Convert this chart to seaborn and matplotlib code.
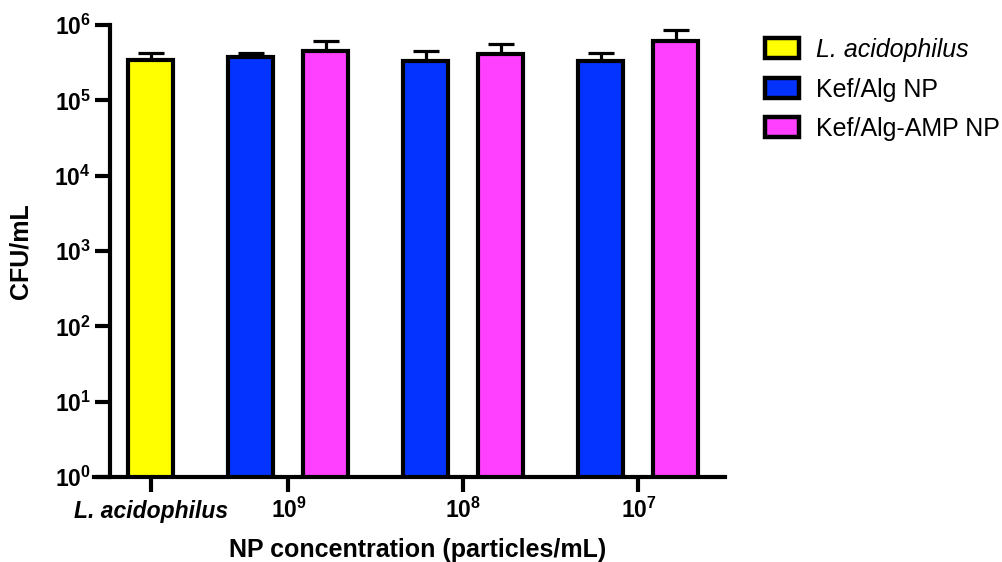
import matplotlib
matplotlib.use("Agg")
import matplotlib.pyplot as plt
from matplotlib.patches import Patch
import numpy as np
import pandas as pd
import seaborn as sns

# ---- data -------------------------------------------------------------
group_labels = ["L. acidophilus", r"$\mathbf{10^{9}}$", r"$\mathbf{10^{8}}$", r"$\mathbf{10^{7}}$"]
series_names = ["L. acidophilus", "Kef/Alg NP", "Kef/Alg-AMP NP"]

control_mean = [3.41e5]
control_sd = [0.88e5]
kef_alg_mean = [3.76e5, 3.36e5, 3.30e5]
kef_alg_sd = [0.45e5, 1.20e5, 0.89e5]
kef_alg_amp_mean = [4.47e5, 4.17e5, 6.19e5]
kef_alg_amp_sd = [1.60e5, 1.34e5, 2.52e5]

y_tick_values = [1e0, 1e1, 1e2, 1e3, 1e4, 1e5, 1e6]
y_tick_labels = [r"$\mathbf{10^{%d}}$" % k for k in range(7)]

colors = {"L. acidophilus": "#FFFF00", "Kef/Alg NP": "#0433FF", "Kef/Alg-AMP NP": "#FF40FF"}

# ---- layout of bars along x -------------------------------------------
group_step = 7.0
first_group = 5.5
half_gap = 1.5
group_centers = [0.0] + [first_group + group_step * i for i in range(3)]

rows = []
rows.append({"pos": group_centers[0], "val": control_mean[0], "sd": control_sd[0], "series": series_names[0]})
for i in range(3):
    c = group_centers[i + 1]
    rows.append({"pos": c - half_gap, "val": kef_alg_mean[i], "sd": kef_alg_sd[i], "series": series_names[1]})
    rows.append({"pos": c + half_gap, "val": kef_alg_amp_mean[i], "sd": kef_alg_amp_sd[i], "series": series_names[2]})
df = pd.DataFrame(rows)

# ---- style ------------------------------------------------------------
sns.set_theme(style="white")
plt.rcParams["font.family"] = ["Liberation Sans", "DejaVu Sans"]
plt.rcParams["mathtext.fontset"] = "custom"
plt.rcParams["mathtext.rm"] = "Liberation Sans"
plt.rcParams["mathtext.bf"] = "Liberation Sans:bold"
plt.rcParams["mathtext.it"] = "Liberation Sans:italic"
plt.rcParams["text.color"] = "black"

LW = 3.0
fig = plt.figure(figsize=(10.03, 5.62), dpi=100)
W, H = 1003, 562
ax = fig.add_axes([94 / W, 1 - 477 / H, (725 - 94) / W, (477 - 25) / H])

sns.barplot(
    data=df, x="pos", y="val", hue="series", hue_order=series_names,
    palette=colors, native_scale=True, dodge=False, width=0.6,
    edgecolor="black", linewidth=LW, errorbar=None, legend=False,
    saturation=1, ax=ax, zorder=3,
)
ax.errorbar(
    df["pos"], df["val"], yerr=[np.zeros(len(df)), df["sd"]],
    fmt="none", ecolor="black", elinewidth=2.3, capsize=9.5, capthick=2.3, zorder=2,
)

ax.set_yscale("log")
ax.set_ylim(1, 1e6)
ax.set_xlim(-2.28, 22.96)
ax.set_yticks(y_tick_values)
ax.set_yticklabels(y_tick_labels)
ax.yaxis.set_minor_locator(matplotlib.ticker.NullLocator())
ax.set_xticks(group_centers)
ax.set_xticklabels(group_labels)
for lbl in ax.get_xticklabels():
    lbl.set_verticalalignment("baseline")
lab0 = ax.get_xticklabels()[0]
lab0.set_fontstyle("italic")
lab0.set_fontweight("bold")

for side in ("top", "right"):
    ax.spines[side].set_visible(False)
ax.spines["left"].set_position(("data", -1.64))
for side in ("left", "bottom"):
    ax.spines[side].set_linewidth(LW)
    ax.spines[side].set_color("black")
    ax.spines[side].set_zorder(5)

ax.tick_params(axis="both", which="major", length=10.8, width=LW, color="black",
               labelsize=16.5, labelcolor="black", direction="out",
               bottom=True, left=True)
ax.tick_params(axis="x", pad=19)
ax.tick_params(axis="y", pad=3)
ax.grid(False)

ax.set_xlabel("NP concentration (particles/mL)", fontsize=18, fontweight="bold", color="black")
ax.set_ylabel("CFU/mL", fontsize=18, fontweight="bold", color="black")
ax.xaxis.set_label_coords((418 - 94) / 631, -0.135)
ax.yaxis.set_label_coords(-0.097, 0.5)

handles = [Patch(facecolor=colors[s], edgecolor="black", linewidth=3.2) for s in series_names]
leg = fig.legend(
    handles, series_names, loc="upper left", bbox_to_anchor=(765 / W, 1 - 38 / H),
    bbox_transform=fig.transFigure, frameon=False, fontsize=18, labelcolor="black",
    handlelength=1.35, handleheight=0.85, handletextpad=0.7, labelspacing=0.62,
    borderpad=0, borderaxespad=0,
)
leg.get_texts()[0].set_fontstyle("italic")

fig.savefig("out.png", dpi=100)
